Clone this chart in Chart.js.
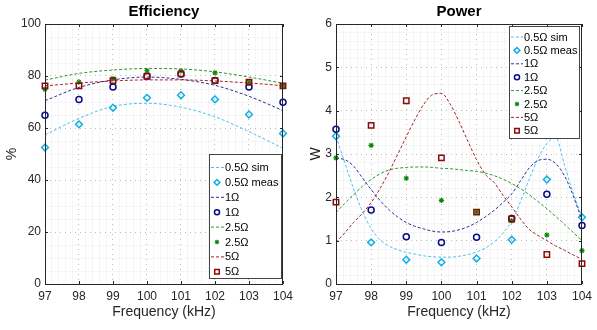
<!DOCTYPE html>
<html lang="en">

<head>
    <meta charset="UTF-8">
    <title>Efficiency and Power</title>
    <script src="https://cdn.jsdelivr.net/npm/chart.js"></script>
    <style>
        body { margin: 0; background: #fff; }
        .panel { position: absolute; top: 0; height: 330px; }
    </style>
</head>

<body>
    <div class="panel" style="left: 0; width: 298px;">
        <canvas id="effChart"></canvas>
    </div>
    <div class="panel" style="left: 298px; width: 299px;">
        <canvas id="powChart"></canvas>
    </div>

    <script>
        // measured points (kHz)
        var freq = [97, 98, 99, 100, 101, 102, 103, 104];

        // efficiency (%)
        var effSim05 = [57.3, 63.7, 68.3, 69.5, 68, 64.3, 58.6, 52.2];
        var effMeas05 = [52.5, 61.4, 67.8, 71.6, 72.6, 71, 65.2, 57.9];
        var effSim1 = [70.5, 75.6, 78.5, 79.6, 78.7, 76.4, 72.2, 66.7];
        var effMeas1 = [64.9, 71, 75.8, 79.9, 80.8, 78.3, 75.8, 69.9];
        var effSim25 = [78.4, 81, 82.3, 82.9, 82.7, 81.6, 79.6, 77.2];
        var effMeas25 = [74.9, 77.7, 79, 82, 81.9, 81.2, 77.7, 76.2];
        var effSim5 = [76.2, 77.3, 78.1, 78.5, 78.5, 78.1, 77.3, 76.3];
        var effMeas5 = [76.2, 76.2, 78.2, 79.9, 80.8, 78.2, 77.6, 76.2];

        // power (W), simulated curves read at 0.25 kHz
        var simFreq = [97, 97.25, 97.5, 97.75, 98, 98.25, 98.5, 98.75, 99, 99.25, 99.5, 99.75, 100, 100.25, 100.5,
            100.75, 101, 101.25, 101.5, 101.75, 102, 102.25, 102.5, 102.75, 103, 103.25, 103.5, 103.75, 104];
        var powSim05 = [3.41, 2.8, 2.2, 1.68, 1.28, 1.02, 0.88, 0.79, 0.73, 0.69, 0.65, 0.63, 0.62, 0.62, 0.64,
            0.68, 0.74, 0.83, 0.97, 1.17, 1.45, 1.9, 2.42, 2.9, 3.24, 3.38, 2.75, 2.1, 1.55];
        var powSim1 = [2.9, 2.87, 2.72, 2.45, 2.18, 1.93, 1.72, 1.55, 1.42, 1.33, 1.27, 1.22, 1.2, 1.21, 1.25,
            1.32, 1.42, 1.55, 1.7, 1.88, 2.08, 2.38, 2.68, 2.85, 2.88, 2.78, 2.5, 2.04, 1.47];
        var powSim25 = [1.65, 1.86, 2.06, 2.25, 2.41, 2.54, 2.63, 2.67, 2.69, 2.7, 2.7, 2.69, 2.67, 2.66, 2.64,
            2.62, 2.6, 2.56, 2.5, 2.42, 2.32, 2.2, 2.06, 1.9, 1.74, 1.56, 1.38, 1.19, 1.0];
        var powSim5 = [0.96, 1.18, 1.42, 1.63, 1.88, 2.2, 2.57, 2.98, 3.4, 3.8, 4.15, 4.37, 4.4, 4.15, 3.75,
            3.3, 2.87, 2.53, 2.34, 2.05, 1.78, 1.5, 1.26, 1.12, 1.0, 0.88, 0.78, 0.67, 0.57];
        var powMeas05 = [3.41, 0.96, 0.56, 0.5, 0.59, 1.02, 2.41, 1.54];
        var powMeas1 = [3.57, 1.71, 1.09, 0.96, 1.08, 1.51, 2.07, 1.35];
        var powMeas25 = [2.91, 3.2, 2.44, 1.93, 1.66, 1.46, 1.13, 0.77];
        var powMeas5 = [1.89, 3.66, 4.23, 2.91, 1.66, 1.5, 0.68, 0.47];

        var labels = ['0.5\u03a9 sim', '0.5\u03a9 meas', '1\u03a9', '1\u03a9', '2.5\u03a9', '2.5\u03a9', '5\u03a9', '5\u03a9'];

        var FONT = '"Liberation Sans", Arial, Helvetica, sans-serif';
        var AXIS = '#262626';

        function pts(xs, ys) {
            return xs.map(function (x, i) { return { x: x, y: ys[i] }; });
        }

        function simSet(label, xs, ys, color, order) {
            return {
                label: label, data: pts(xs, ys), showLine: true, pointRadius: 0,
                borderColor: color, borderWidth: 1, borderDash: [3, 2],
                cubicInterpolationMode: 'monotone', order: order
            };
        }

        function measSet(label, ys, color, style, radius, width, order) {
            return {
                label: label, data: pts(freq, ys), showLine: false,
                pointStyle: style, pointRadius: radius, pointBorderWidth: width,
                borderColor: color, backgroundColor: 'rgba(0,0,0,0)', clip: false, order: order
            };
        }

        function isMajor(v, step) {
            var r = v / step;
            return Math.abs(r - Math.round(r)) < 1e-6;
        }

        // box, inward ticks and the boxed legend
        var framePlugin = {
            id: 'frame',
            afterDraw: function (chart, args, opts) {
                var ctx = chart.ctx, a = chart.chartArea;
                var xs = chart.scales.x, ys = chart.scales.y;
                ctx.save();
                ctx.strokeStyle = AXIS;
                ctx.lineWidth = 1;
                ctx.strokeRect(Math.round(a.left) + 0.5, Math.round(a.top) + 0.5,
                    Math.round(a.right - a.left) - 1, Math.round(a.bottom - a.top));
                ctx.beginPath();
                xs.ticks.forEach(function (t) {
                    if (!isMajor(t.value, 1)) return;
                    var px = Math.round(xs.getPixelForValue(t.value)) + 0.5;
                    ctx.moveTo(px, a.bottom); ctx.lineTo(px, a.bottom - 3);
                    ctx.moveTo(px, a.top); ctx.lineTo(px, a.top + 3);
                });
                ys.ticks.forEach(function (t) {
                    if (!isMajor(t.value, opts.yMajor)) return;
                    var py = Math.round(ys.getPixelForValue(t.value)) + 0.5;
                    ctx.moveTo(a.left, py); ctx.lineTo(a.left + 3, py);
                    ctx.moveTo(a.right, py); ctx.lineTo(a.right - 3, py);
                });
                ctx.stroke();

                // legend
                var lg = opts.legend;
                var n = chart.data.datasets.length;
                var bx = a.right - lg.right - lg.width, by = lg.top === undefined ? a.bottom - lg.bottom - lg.height : a.top + lg.top;
                ctx.fillStyle = '#fff';
                ctx.fillRect(bx, by, lg.width, lg.height);
                ctx.strokeStyle = '#444';
                ctx.strokeRect(Math.round(bx) + 0.5, Math.round(by) + 0.5, lg.width, lg.height);
                ctx.font = '11px ' + FONT;
                ctx.textBaseline = 'middle';
                ctx.textAlign = 'left';
                for (var i = 0; i < n; i++) {
                    var ds = chart.data.datasets[i];
                    var cy = by + lg.first + i * lg.row;
                    if (ds.showLine) {
                        ctx.strokeStyle = ds.borderColor;
                        ctx.lineWidth = 1;
                        ctx.setLineDash(ds.borderDash);
                        ctx.beginPath();
                        ctx.moveTo(bx + 2, cy); ctx.lineTo(bx + lg.text - 1, cy);
                        ctx.stroke();
                        ctx.setLineDash([]);
                    } else {
                        ctx.strokeStyle = ds.borderColor;
                        ctx.fillStyle = 'rgba(0,0,0,0)';
                        ctx.lineWidth = ds.pointBorderWidth;
                        Chart.helpers.drawPoint(ctx, {
                            pointStyle: ds.pointStyle, radius: ds.pointRadius * 0.85,
                            rotation: 0, borderWidth: ds.pointBorderWidth
                        }, bx + 8, cy);
                    }
                    ctx.fillStyle = '#000';
                    ctx.fillText(ds.label, bx + lg.text, cy + 0.5);
                }
                ctx.restore();
            }
        };

        function scales(yMin, yMax, yMinor, yMajor, yTitle, yWidth, yTitlePad) {
            return {
                x: {
                    type: 'linear', min: 97, max: 104,
                    afterFit: function (s) { s.height = 46; },
                    ticks: {
                        stepSize: 0.2, autoSkip: false, maxRotation: 0, padding: 5, color: AXIS,
                        font: { size: 12, family: FONT },
                        callback: function (v) { return isMajor(v, 1) ? String(Math.round(v)) : ''; }
                    },
                    grid: {
                        drawTicks: false,
                        color: function (c) { return isMajor(c.tick.value, 1) ? 'rgba(38,38,38,0.3)' : 'rgba(38,38,38,0.045)'; }
                    },
                    border: {
                        display: false,
                        dash: function (c) { return isMajor(c.tick.value, 1) ? [1, 4] : []; }
                    },
                    title: {
                        display: true, text: 'Frequency (kHz)', color: AXIS,
                        font: { size: 14, family: FONT }, padding: { top: 0, bottom: 9 }
                    }
                },
                y: {
                    type: 'linear', min: yMin, max: yMax,
                    afterFit: function (s) { s.width = yWidth; },
                    ticks: {
                        stepSize: yMinor, autoSkip: false, padding: 4, color: AXIS,
                        font: { size: 12, family: FONT },
                        callback: function (v) { return isMajor(v, yMajor) ? String(Math.round(v)) : ''; }
                    },
                    grid: {
                        drawTicks: false,
                        color: function (c) { return isMajor(c.tick.value, yMajor) ? 'rgba(38,38,38,0.3)' : 'rgba(38,38,38,0.045)'; }
                    },
                    border: {
                        display: false,
                        dash: function (c) { return isMajor(c.tick.value, yMajor) ? [1, 4] : []; }
                    },
                    title: {
                        display: true, text: yTitle, color: AXIS,
                        font: { size: 14, family: FONT }, padding: { top: yTitlePad, bottom: 0 }
                    }
                }
            };
        }

        function titleOpts(text) {
            return {
                display: true, text: text, fullSize: false, color: '#000',
                font: { size: 15, weight: 'bold', family: FONT },
                padding: { top: 3, bottom: 3 }
            };
        }

        var CYAN_L = '#4dbfee', CYAN_M = '#12aee6';
        var NAVY_L = '#2d2d9e', NAVY_M = '#0a0a88';
        var GREEN_L = '#2a9a2a', GREEN_M = '#0a870a';
        var RED_L = '#a32424', RED_M = '#8c0a0a';

        var effChart = new Chart(document.getElementById('effChart').getContext('2d'), {
            type: 'scatter',
            data: {
                datasets: [
                    simSet(labels[0], freq, effSim05, CYAN_L, 7),
                    measSet(labels[1], effMeas05, CYAN_M, 'rectRot', 3.4, 1.5, 6),
                    simSet(labels[2], freq, effSim1, NAVY_L, 5),
                    measSet(labels[3], effMeas1, NAVY_M, 'circle', 3, 1.5, 4),
                    simSet(labels[4], freq, effSim25, GREEN_L, 3),
                    measSet(labels[5], effMeas25, GREEN_M, 'star', 2.7, 1.1, 2),
                    simSet(labels[6], freq, effSim5, RED_L, 1),
                    measSet(labels[7], effMeas5, RED_M, 'rect', 3.8, 1.5, 0)
                ]
            },
            plugins: [framePlugin],
            options: {
                responsive: true, maintainAspectRatio: false, animation: false, devicePixelRatio: 1,
                layout: { padding: { left: 0, right: 5, top: 0, bottom: 0 } },
                scales: scales(0, 100, 5, 20, '%', 45, 3.6),
                plugins: {
                    legend: { display: false },
                    tooltip: { enabled: false },
                    title: titleOpts('Efficiency'),
                    frame: { yMajor: 20, legend: { width: 72, height: 124, right: 2, bottom: 6, first: 13.5, row: 14.9, text: 16 } }
                }
            }
        });

        var powChart = new Chart(document.getElementById('powChart').getContext('2d'), {
            type: 'scatter',
            data: {
                datasets: [
                    simSet(labels[0], simFreq, powSim05, CYAN_L, 7),
                    measSet(labels[1], powMeas05, CYAN_M, 'rectRot', 3.4, 1.5, 6),
                    simSet(labels[2], simFreq, powSim1, NAVY_L, 5),
                    measSet(labels[3], powMeas1, NAVY_M, 'circle', 3, 1.5, 4),
                    simSet(labels[4], simFreq, powSim25, GREEN_L, 3),
                    measSet(labels[5], powMeas25, GREEN_M, 'star', 2.7, 1.1, 2),
                    simSet(labels[6], simFreq, powSim5, RED_L, 1),
                    measSet(labels[7], powMeas5, RED_M, 'rect', 3.8, 1.5, 0)
                ]
            },
            plugins: [framePlugin],
            options: {
                responsive: true, maintainAspectRatio: false, animation: false, devicePixelRatio: 1,
                layout: { padding: { left: 0, right: 8, top: 0, bottom: 0 } },
                scales: scales(0, 6, 0.2, 1, 'W', 38, 10),
                plugins: {
                    legend: { display: false },
                    tooltip: { enabled: false },
                    title: titleOpts('Power'),
                    frame: { yMajor: 1, legend: { width: 70, height: 112, right: 3, top: 2, first: 11, row: 13.4, text: 15 } }
                }
            }
        });
    </script>
</body>

</html>
